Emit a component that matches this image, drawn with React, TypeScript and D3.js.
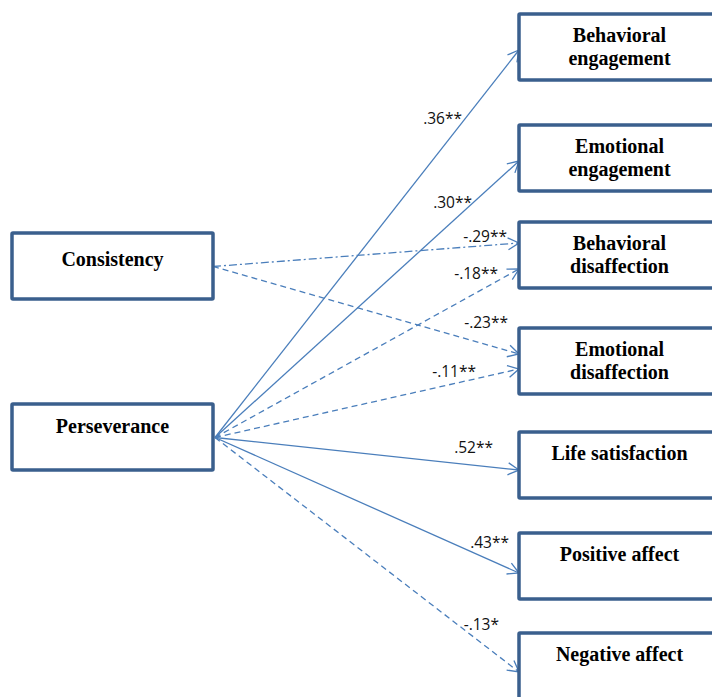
import React, { useEffect, useRef } from "react";
import * as d3 from "d3";

// predictors (left) and outcomes (right)
const predictors = ["Consistency", "Perseverance"];
const outcomes = [
  ["Behavioral", "engagement"],
  ["Emotional", "engagement"],
  ["Behavioral", "disaffection"],
  ["Emotional", "disaffection"],
  ["Life satisfaction"],
  ["Positive affect"],
  ["Negative affect"],
];

// paths: from predictor index -> outcome index, with standardized coefficient
const pathFrom = [1, 1, 0, 1, 0, 1, 1, 1, 1];
const pathTo = [0, 1, 2, 2, 3, 3, 4, 5, 6];
const coefficients = [".36**", ".30**", "-.29**", "-.18**", "-.23**", "-.11**", ".52**", ".43**", "-.13*"];

// layout (not data)
const leftTops = [233, 404];
const rightTops = [14, 125, 222, 328, 432, 533, 633];
const tipOffset = [3, 3, -12, 14, -7, 8, 5, 7, 6];
const lineDash = ["", "", "8,3,2,3", "6,4", "6,4", "6,4", "", "", "6,4"];
const labelPos = [
  [462, 124],
  [472, 208],
  [507, 242],
  [498, 279],
  [508, 328],
  [476, 377],
  [493, 453],
  [509, 548],
  [499, 630],
];

const App = () => {
  const ref = useRef<SVGSVGElement>(null);

  useEffect(() => {
    const width = 712;
    const height = 697;
    const boxW = 201;
    const boxH = 66;
    const leftX = 12;
    const rightX = 519;
    const boxColor = "#3a5f8d";
    const lineColor = "#4a7ebb";

    const svg = d3.select(ref.current);
    svg.selectAll("*").remove();
    svg.attr("width", width).attr("height", height);

    svg
      .append("defs")
      .append("marker")
      .attr("id", "arrow")
      .attr("viewBox", "-12 -7 14 14")
      .attr("refX", 0)
      .attr("refY", 0)
      .attr("markerWidth", 14)
      .attr("markerHeight", 14)
      .attr("markerUnits", "userSpaceOnUse")
      .attr("orient", "auto")
      .append("path")
      .attr("d", "M-11,-6 L0,0 L-11,6")
      .attr("fill", "none")
      .attr("stroke", lineColor)
      .attr("stroke-width", 1.3);

    const srcY = (i: number) => leftTops[i] + boxH / 2 + 0.5;
    const tipY = (k: number) => rightTops[pathTo[k]] + boxH / 2 + tipOffset[k];

    // paths
    const paths = pathFrom.map((f, k) => ({ f, k }));
    svg
      .append("g")
      .selectAll("line")
      .data(paths)
      .enter()
      .append("line")
      .attr("x1", (d) => leftX + boxW + (d.f === 1 ? 2 : 0))
      .attr("y1", (d) => srcY(d.f))
      .attr("x2", rightX)
      .attr("y2", (d) => tipY(d.k))
      .attr("stroke", lineColor)
      .attr("stroke-width", 1.3)
      .attr("stroke-dasharray", (d) => lineDash[d.k] || null)
      .attr("marker-end", "url(#arrow)");

    // coefficient labels
    svg
      .append("g")
      .selectAll("text")
      .data(coefficients)
      .enter()
      .append("text")
      .text((d) => d)
      .attr("x", (_, i) => labelPos[i][0])
      .attr("y", (_, i) => labelPos[i][1])
      .attr("text-anchor", "end")
      .attr("font-family", "'Open Sans', sans-serif")
      .attr("font-size", "15.5px")
      .attr("fill", "#111");

    // boxes
    const drawBox = (x: number, y: number, lines: string[], firstBase: number) => {
      const g = svg.append("g");
      g.append("rect")
        .attr("x", x)
        .attr("y", y)
        .attr("width", boxW)
        .attr("height", boxH)
        .attr("fill", "white")
        .attr("stroke", boxColor)
        .attr("stroke-width", 3.5)
        .attr("rx", 1);
      lines.forEach((t, i) => {
        g.append("text")
          .text(t)
          .attr("x", x + boxW / 2)
          .attr("y", y + firstBase + i * 22.5)
          .attr("text-anchor", "middle")
          .attr("font-family", "'Liberation Serif', 'Times New Roman', serif")
          .attr("font-weight", "bold")
          .attr("font-size", "20px")
          .attr("fill", "#000");
      });
    };

    predictors.forEach((p, i) => drawBox(leftX, leftTops[i], [p], i === 0 ? 33 : 29));
    outcomes.forEach((o, i) => drawBox(rightX, rightTops[i], o, 28));
  }, []);

  return <svg ref={ref} style={{ position: "absolute", left: 0, top: 0 }} />;
};

export default App;
